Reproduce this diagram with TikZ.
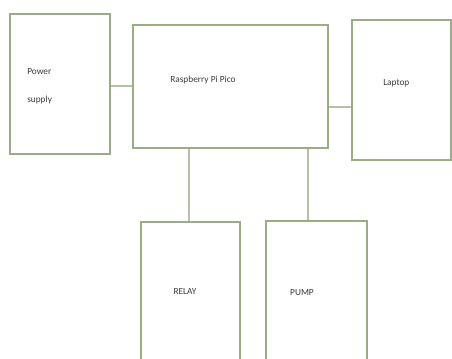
\documentclass[tikz,border=0pt]{standalone}
\usepackage{fontspec}
\setmainfont{Carlito}
\usetikzlibrary{positioning}
\definecolor{boxline}{RGB}{155,172,135}
\definecolor{boxtext}{RGB}{60,60,60}

\begin{document}
\begin{tikzpicture}[x=0.75pt,y=-0.75pt,
	blk/.style={draw=boxline,line width=1.1pt,fill=white,inner sep=0pt},
	lbl/.style={font=\fontsize{7}{21}\selectfont,text=boxtext,inner sep=0pt,align=left},
	wire/.style={draw=boxline!75,line width=0.8pt}]
	\useasboundingbox (0,0) rectangle (452,358);
	\clip (0,0) rectangle (452,358);
	% blocks
	\node[blk,minimum width=75pt,minimum height=105pt] (supply) at (60,84) {};
	\node[blk,minimum width=146.25pt,minimum height=92.25pt] (pico) at (230.5,86.5) {};
	\node[blk,minimum width=74.25pt,minimum height=105pt] (laptop) at (401.5,90) {};
	\node[blk,minimum width=74.25pt,minimum height=111pt] (relay) at (190.5,296) {};
	\node[blk,minimum width=75.75pt,minimum height=111.75pt] (pump) at (316.5,295.5) {};
	% labels
	\node[lbl,anchor=west] (supplytxt) at (27,86) {Power\\supply};
	\node[lbl,anchor=west] (picotxt) at (170,80) {Raspberry Pi Pico};
	\node[lbl,anchor=west] (laptoptxt) at (383,83) {Laptop};
	\node[lbl] (relaytxt) at (185,291) {RELAY};
	\node[lbl] (pumptxt) at (302,293) {PUMP};
	% wires
	\draw[wire] (supply.east |- 0,86) -- (pico.west |- 0,86);
	\draw[wire] (pico.east |- 0,107) -- (laptop.west |- 0,107);
	\draw[wire] (pico.south -| 189,0) -- (relay.north -| 189,0);
	\draw[wire] (pico.south -| 308,0) -- (pump.north -| 308,0);
\end{tikzpicture}
\end{document}
